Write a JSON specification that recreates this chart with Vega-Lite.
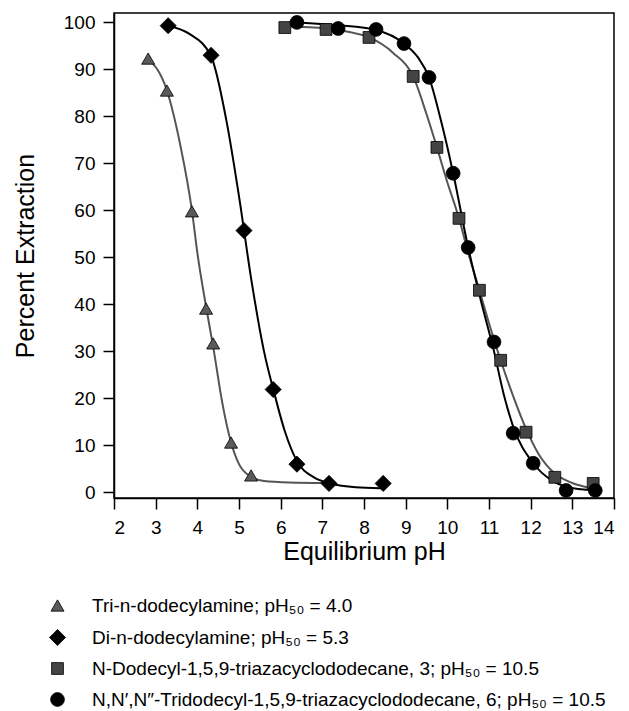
{
  "$schema": "https://vega.github.io/schema/vega-lite/v6.json",
  "width": 500,
  "height": 485,
  "autosize": {"type": "none"},
  "padding": {"left": 114, "top": 13, "right": 15, "bottom": 213},
  "background": "white",
  "config": {
    "font": "Liberation Sans",
    "view": {"stroke": "black", "strokeWidth": 1.5},
    "axis": {
      "grid": false,
      "domainColor": "black",
      "domainWidth": 1.5,
      "tickColor": "black",
      "tickWidth": 1.5,
      "tickSize": 11,
      "labelColor": "black",
      "labelFontSize": 19,
      "titleColor": "black",
      "titleFontSize": 25,
      "titleFontWeight": "normal"
    }
  },
  "datasets": {
    "points": [
      {"series": "Tri-n-dodecylamine; pH₅₀ = 4.0", "pH": 2.82, "pct": 92.3},
      {"series": "Tri-n-dodecylamine; pH₅₀ = 4.0", "pH": 3.27, "pct": 85.5},
      {"series": "Tri-n-dodecylamine; pH₅₀ = 4.0", "pH": 3.87, "pct": 59.8},
      {"series": "Tri-n-dodecylamine; pH₅₀ = 4.0", "pH": 4.21, "pct": 39.1},
      {"series": "Tri-n-dodecylamine; pH₅₀ = 4.0", "pH": 4.38, "pct": 31.7},
      {"series": "Tri-n-dodecylamine; pH₅₀ = 4.0", "pH": 4.81, "pct": 10.6},
      {"series": "Tri-n-dodecylamine; pH₅₀ = 4.0", "pH": 5.29, "pct": 3.6},
      {"series": "Di-n-dodecylamine; pH₅₀ = 5.3", "pH": 3.3, "pct": 99.3},
      {"series": "Di-n-dodecylamine; pH₅₀ = 5.3", "pH": 4.33, "pct": 93.0},
      {"series": "Di-n-dodecylamine; pH₅₀ = 5.3", "pH": 5.12, "pct": 55.7},
      {"series": "Di-n-dodecylamine; pH₅₀ = 5.3", "pH": 5.82, "pct": 21.9},
      {"series": "Di-n-dodecylamine; pH₅₀ = 5.3", "pH": 6.39, "pct": 6.0},
      {"series": "Di-n-dodecylamine; pH₅₀ = 5.3", "pH": 7.16, "pct": 1.9},
      {"series": "Di-n-dodecylamine; pH₅₀ = 5.3", "pH": 8.46, "pct": 1.9},
      {"series": "N-Dodecyl-1,5,9-triazacyclododecane, 3; pH₅₀ = 10.5", "pH": 6.1, "pct": 98.9},
      {"series": "N-Dodecyl-1,5,9-triazacyclododecane, 3; pH₅₀ = 10.5", "pH": 7.09, "pct": 98.5},
      {"series": "N-Dodecyl-1,5,9-triazacyclododecane, 3; pH₅₀ = 10.5", "pH": 8.12, "pct": 96.8},
      {"series": "N-Dodecyl-1,5,9-triazacyclododecane, 3; pH₅₀ = 10.5", "pH": 9.18, "pct": 88.5},
      {"series": "N-Dodecyl-1,5,9-triazacyclododecane, 3; pH₅₀ = 10.5", "pH": 9.75, "pct": 73.4},
      {"series": "N-Dodecyl-1,5,9-triazacyclododecane, 3; pH₅₀ = 10.5", "pH": 10.28, "pct": 58.3},
      {"series": "N-Dodecyl-1,5,9-triazacyclododecane, 3; pH₅₀ = 10.5", "pH": 10.77, "pct": 43.0},
      {"series": "N-Dodecyl-1,5,9-triazacyclododecane, 3; pH₅₀ = 10.5", "pH": 11.28, "pct": 28.1},
      {"series": "N-Dodecyl-1,5,9-triazacyclododecane, 3; pH₅₀ = 10.5", "pH": 11.89, "pct": 12.8},
      {"series": "N-Dodecyl-1,5,9-triazacyclododecane, 3; pH₅₀ = 10.5", "pH": 12.58, "pct": 3.2},
      {"series": "N-Dodecyl-1,5,9-triazacyclododecane, 3; pH₅₀ = 10.5", "pH": 13.5, "pct": 1.9},
      {"series": "N,N′,N″-Tridodecyl-1,5,9-triazacyclododecane, 6; pH₅₀ = 10.5", "pH": 6.39, "pct": 100.0},
      {"series": "N,N′,N″-Tridodecyl-1,5,9-triazacyclododecane, 6; pH₅₀ = 10.5", "pH": 7.38, "pct": 98.7},
      {"series": "N,N′,N″-Tridodecyl-1,5,9-triazacyclododecane, 6; pH₅₀ = 10.5", "pH": 8.29, "pct": 98.5},
      {"series": "N,N′,N″-Tridodecyl-1,5,9-triazacyclododecane, 6; pH₅₀ = 10.5", "pH": 8.96, "pct": 95.5},
      {"series": "N,N′,N″-Tridodecyl-1,5,9-triazacyclododecane, 6; pH₅₀ = 10.5", "pH": 9.56, "pct": 88.3},
      {"series": "N,N′,N″-Tridodecyl-1,5,9-triazacyclododecane, 6; pH₅₀ = 10.5", "pH": 10.14, "pct": 67.9},
      {"series": "N,N′,N″-Tridodecyl-1,5,9-triazacyclododecane, 6; pH₅₀ = 10.5", "pH": 10.5, "pct": 52.1},
      {"series": "N,N′,N″-Tridodecyl-1,5,9-triazacyclododecane, 6; pH₅₀ = 10.5", "pH": 11.12, "pct": 32.0},
      {"series": "N,N′,N″-Tridodecyl-1,5,9-triazacyclododecane, 6; pH₅₀ = 10.5", "pH": 11.58, "pct": 12.6},
      {"series": "N,N′,N″-Tridodecyl-1,5,9-triazacyclododecane, 6; pH₅₀ = 10.5", "pH": 12.06, "pct": 6.2},
      {"series": "N,N′,N″-Tridodecyl-1,5,9-triazacyclododecane, 6; pH₅₀ = 10.5", "pH": 12.85, "pct": 0.4},
      {"series": "N,N′,N″-Tridodecyl-1,5,9-triazacyclododecane, 6; pH₅₀ = 10.5", "pH": 13.55, "pct": 0.4}
    ],
    "curves": [
      {"curve": "tri", "pH": 2.82, "pct": 92.3},
      {"curve": "tri", "pH": 3.27, "pct": 85.5},
      {"curve": "tri", "pH": 3.6, "pct": 73.5},
      {"curve": "tri", "pH": 3.87, "pct": 60.0},
      {"curve": "tri", "pH": 4.0, "pct": 51.0},
      {"curve": "tri", "pH": 4.21, "pct": 39.5},
      {"curve": "tri", "pH": 4.38, "pct": 31.0},
      {"curve": "tri", "pH": 4.6, "pct": 19.0},
      {"curve": "tri", "pH": 4.81, "pct": 10.6},
      {"curve": "tri", "pH": 5.0, "pct": 6.0},
      {"curve": "tri", "pH": 5.29, "pct": 3.3},
      {"curve": "tri", "pH": 5.6, "pct": 2.4},
      {"curve": "tri", "pH": 6.2, "pct": 2.1},
      {"curve": "tri", "pH": 7.1, "pct": 2.0},
      {"curve": "di", "pH": 3.3, "pct": 99.3},
      {"curve": "di", "pH": 3.8, "pct": 97.6},
      {"curve": "di", "pH": 4.33, "pct": 92.8},
      {"curve": "di", "pH": 4.7, "pct": 79.0},
      {"curve": "di", "pH": 5.0, "pct": 63.0},
      {"curve": "di", "pH": 5.3, "pct": 45.0},
      {"curve": "di", "pH": 5.6, "pct": 30.0},
      {"curve": "di", "pH": 5.85, "pct": 21.0},
      {"curve": "di", "pH": 6.1, "pct": 13.0},
      {"curve": "di", "pH": 6.4, "pct": 6.5},
      {"curve": "di", "pH": 6.8, "pct": 3.2},
      {"curve": "di", "pH": 7.2, "pct": 1.9},
      {"curve": "di", "pH": 7.8, "pct": 1.1},
      {"curve": "di", "pH": 8.4, "pct": 0.9},
      {"curve": "c3", "pH": 6.1, "pct": 99.2},
      {"curve": "c3", "pH": 7.1, "pct": 98.7},
      {"curve": "c3", "pH": 8.12, "pct": 96.8},
      {"curve": "c3", "pH": 8.7, "pct": 93.5},
      {"curve": "c3", "pH": 9.18, "pct": 88.5},
      {"curve": "c3", "pH": 9.5, "pct": 80.5},
      {"curve": "c3", "pH": 9.75, "pct": 73.4},
      {"curve": "c3", "pH": 10.0, "pct": 66.0},
      {"curve": "c3", "pH": 10.28, "pct": 58.3},
      {"curve": "c3", "pH": 10.5, "pct": 51.0},
      {"curve": "c3", "pH": 10.77, "pct": 43.0},
      {"curve": "c3", "pH": 11.0, "pct": 36.0},
      {"curve": "c3", "pH": 11.28, "pct": 28.1},
      {"curve": "c3", "pH": 11.6, "pct": 20.0},
      {"curve": "c3", "pH": 11.89, "pct": 13.5},
      {"curve": "c3", "pH": 12.2, "pct": 8.0},
      {"curve": "c3", "pH": 12.58, "pct": 4.0},
      {"curve": "c3", "pH": 13.0, "pct": 2.0},
      {"curve": "c3", "pH": 13.4, "pct": 1.0},
      {"curve": "c6", "pH": 6.39, "pct": 100.0},
      {"curve": "c6", "pH": 7.38, "pct": 99.4},
      {"curve": "c6", "pH": 8.29, "pct": 98.4},
      {"curve": "c6", "pH": 8.96, "pct": 95.5},
      {"curve": "c6", "pH": 9.3, "pct": 92.5},
      {"curve": "c6", "pH": 9.56, "pct": 88.3},
      {"curve": "c6", "pH": 9.85, "pct": 79.0},
      {"curve": "c6", "pH": 10.14, "pct": 67.9},
      {"curve": "c6", "pH": 10.5, "pct": 52.1},
      {"curve": "c6", "pH": 10.8, "pct": 41.0},
      {"curve": "c6", "pH": 11.12, "pct": 30.0},
      {"curve": "c6", "pH": 11.35, "pct": 21.0},
      {"curve": "c6", "pH": 11.58, "pct": 14.0},
      {"curve": "c6", "pH": 12.06, "pct": 6.2},
      {"curve": "c6", "pH": 12.5, "pct": 2.6},
      {"curve": "c6", "pH": 12.85, "pct": 1.2},
      {"curve": "c6", "pH": 13.55, "pct": 0.4}
    ]
  },
  "layer": [
    {
      "data": {"name": "curves"},
      "mark": {"type": "line", "interpolate": "monotone", "strokeWidth": 2},
      "encoding": {
        "x": {
          "field": "pH",
          "type": "quantitative",
          "scale": {"domain": [2, 14], "nice": false, "zero": false},
          "axis": {
            "title": "Equilibrium pH",
            "values": [2, 3, 4, 5, 6, 7, 8, 9, 10, 11, 12, 13, 14],
            "labelPadding": 9,
            "titlePadding": 2
          }
        },
        "y": {
          "field": "pct",
          "type": "quantitative",
          "scale": {"domain": [-1.2, 102], "nice": false, "zero": false},
          "axis": {
            "title": "Percent Extraction",
            "values": [0, 10, 20, 30, 40, 50, 60, 70, 80, 90, 100],
            "labelPadding": 8,
            "titlePadding": 25
          }
        },
        "detail": {"field": "curve"},
        "stroke": {
          "field": "curve",
          "type": "nominal",
          "scale": {"domain": ["tri", "di", "c3", "c6"], "range": ["#555555", "#000000", "#555555", "#000000"]},
          "legend": null
        }
      }
    },
    {
      "data": {"name": "points"},
      "mark": {"type": "point", "filled": true, "stroke": "black", "strokeWidth": 0.8, "opacity": 1},
      "encoding": {
        "x": {"field": "pH", "type": "quantitative"},
        "y": {"field": "pct", "type": "quantitative"},
        "shape": {
          "field": "series",
          "type": "nominal",
          "sort": null,
          "scale": {"range": ["triangle-up", "diamond", "square", "circle"]},
          "legend": {
            "title": null,
            "orient": "none",
            "legendX": -66,
            "legendY": 583,
            "direction": "vertical",
            "padding": 0,
            "symbolSize": 150,
            "symbolStrokeWidth": 0.8,
            "labelFontSize": 19,
            "labelColor": "black",
            "labelOffset": 25,
            "rowPadding": 11,
            "labelLimit": 600
          }
        },
        "color": {
          "field": "series",
          "type": "nominal",
          "sort": null,
          "scale": {"range": ["#5a5a5a", "#000000", "#444444", "#000000"]},
          "legend": {
            "title": null,
            "orient": "none",
            "legendX": -66,
            "legendY": 583,
            "direction": "vertical",
            "padding": 0,
            "symbolSize": 150,
            "symbolStrokeWidth": 0.8,
            "labelFontSize": 19,
            "labelColor": "black",
            "labelOffset": 25,
            "rowPadding": 11,
            "labelLimit": 600
          }
        },
        "size": {
          "field": "series",
          "type": "nominal",
          "sort": null,
          "scale": {"type": "ordinal", "range": [170, 260, 140, 190]},
          "legend": null
        }
      }
    }
  ]
}
